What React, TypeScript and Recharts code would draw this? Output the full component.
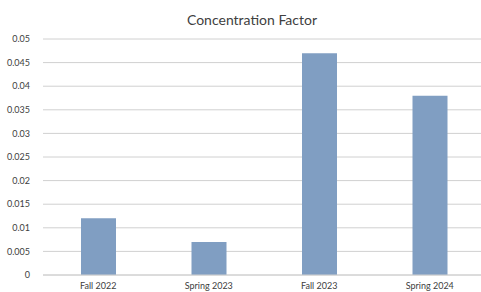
import { BarChart, Bar, XAxis, YAxis, CartesianGrid } from 'recharts'

// Periodos e valores
const terms = ['Fall 2022', 'Spring 2023', 'Fall 2023', 'Spring 2024']
const concentration = [0.012, 0.007, 0.047, 0.038]
const yTicks = [0, 0.005, 0.01, 0.015, 0.02, 0.025, 0.03, 0.035, 0.04, 0.045, 0.05]

const data = terms.map((term, i) => ({ term, value: concentration[i] }))

const font = 'Lato, "Open Sans", sans-serif'

export default function App() {
  return (
    <div style={{ position: 'absolute', left: 0, top: 0, width: 481, height: 292, overflow: 'hidden', background: '#fff', fontFamily: font }}>
      <div
        style={{
          position: 'absolute',
          left: 0,
          width: 504,
          top: 11,
          textAlign: 'center',
          fontSize: 14,
          color: '#404040',
        }}
      >
        Concentration Factor
      </div>
      <BarChart
        width={490}
        height={292}
        data={data}
        margin={{ top: 39, right: 5, left: 0, bottom: 0 }}
        barSize={35}
      >
        <CartesianGrid vertical={false} stroke="#d0d0d0" strokeWidth={1} />
        <XAxis
          dataKey="term"
          height={17}
          axisLine={{ stroke: '#d0d0d0' }}
          tickLine={false}
          tick={{ fontSize: 9, fill: '#404040', fontFamily: font }}
          tickMargin={2}
          interval={0}
        />
        <YAxis
          width={43}
          domain={[0, 0.05]}
          ticks={yTicks}
          axisLine={false}
          tickLine={false}
          tick={{ fontSize: 9, fill: '#404040', fontFamily: font }}
          tickMargin={7}
          interval={0}
        />
        <Bar dataKey="value" fill="#809ec2" isAnimationActive={false} />
      </BarChart>
    </div>
  )
}
